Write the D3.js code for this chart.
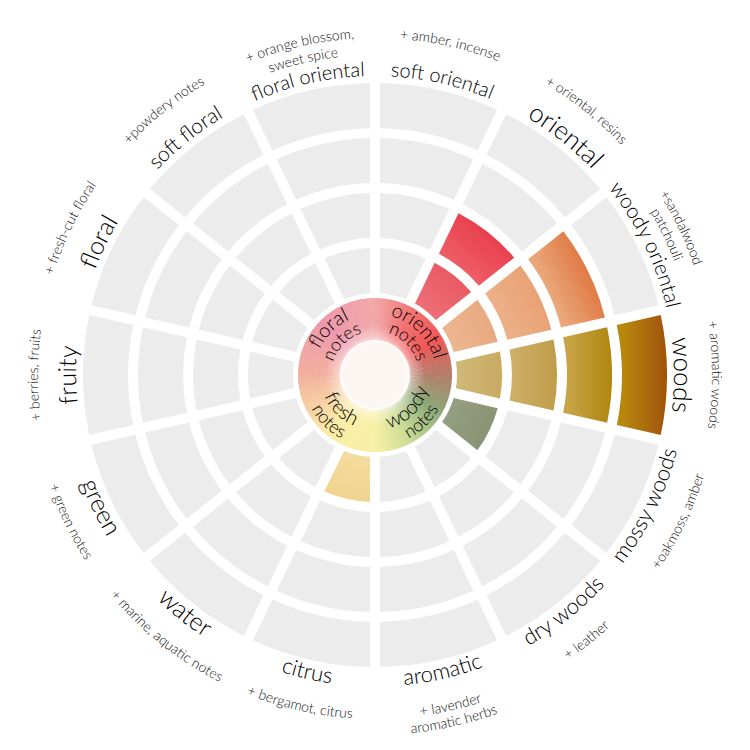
<!DOCTYPE html>
<html><head><meta charset="utf-8">
<script src="https://cdn.jsdelivr.net/npm/d3@7"></script>
<style>html,body{margin:0;background:#fff;} svg{display:block}</style>
</head><body><svg id="c" width="750" height="750"></svg>
<script>
// ---- data ----
const categories = ["soft oriental","oriental","woody oriental","woods","mossy woods","dry woods","aromatic","citrus","water","green","fruity","floral","soft floral","floral oriental"];
const subLabels = [["+ amber, incense"],["+ oriental, resins"],["+sandalwood","patchouli"],["+ aromatic woods"],["+oakmoss, amber"],["+ leather"],["+ lavender","aromatic herbs"],["+ bergamot, citrus"],["+ marine, aquatic notes"],["+ green notes"],["+ berries, fruits"],["+ fresh-cut floral"],["+powdery notes"],["+ orange blossom,","sweet spice"]];
const rings = [1,2,3,4];
const filledRings = [0,2,3,4,1,0,0,1,0,0,0,0,0,0];
const noteFamilies = ["oriental","woody","fresh","floral"];
const noteWord = "notes";
const wheelStopAngles = [0,30,60,90,120,150,180,220,270,315,360];
const wheelStopColors = ["#f2a8a8","#f27272","#f05656","#b47e6c","#8aa878","#c6da94","#f8f0a4","#faeca6","#f2b09e","#ee98ac","#f2a8a8"];

// ---- styles ----
const cellColors = {
 "oriental-1": ["#ee6e76","#e85a64"],
 "oriental-2": ["#ee5c66","#e8404e"],
 "woody oriental-1": ["#ecb690","#e8aa80"],
 "woody oriental-2": ["#ecb088","#e8a274"],
 "woody oriental-3": ["#eaa87c","#e07a44"],
 "woods-1": ["#d0b876","#c8aa62"],
 "woods-2": ["#ccb068","#c09c48"],
 "woods-3": ["#c8a448","#b0860e"],
 "woods-4": ["#b8880c","#a05206"],
 "mossy woods-1": ["#949e80","#8a9474"],
 "citrus-1": ["#f4dc9e","#f0d490"]
};
const labelSize = {"soft oriental":20,"oriental":26,"woody oriental":21,"woods":26,"mossy woods":22,"dry woods":22,"aromatic":22,"citrus":22,"water":25,"green":25,"fruity":25,"floral":25,"soft floral":21,"floral oriental":20};
const FONT = "Lato, 'Open Sans', sans-serif";
const GRAY = "#ececec";

const svg = d3.select("#c");
const g = svg.append("g").attr("transform","translate(375,375)");
const defs = svg.append("defs");

const x = d3.scaleBand().domain(categories).range([0, 2*Math.PI]);
const y = d3.scaleBand().domain(rings).range([82, 292]).paddingInner(0.18);

const arc = d3.arc()
  .innerRadius(d => y(d.ring))
  .outerRadius(d => y(d.ring) + y.bandwidth())
  .startAngle(d => x(d.cat))
  .endAngle(d => x(d.cat) + x.bandwidth())
  .padAngle(0.05).padRadius(200);

const cells = [];
categories.forEach((c,i) => rings.forEach(r => cells.push({cat:c, ring:r, filled: r <= filledRings[i]})));

defs.append("filter").attr("id","soft").append("feGaussianBlur").attr("stdDeviation",0.6);
defs.append("filter").attr("id","blur2").append("feGaussianBlur").attr("stdDeviation",2);

cells.forEach((d,i) => {
  if (d.filled) {
    const col = cellColors[d.cat + "-" + d.ring];
    const a = x(d.cat) + x.bandwidth()/2;
    const r0 = y(d.ring), r1 = y(d.ring) + y.bandwidth();
    const gr = defs.append("linearGradient").attr("id","gc"+i).attr("gradientUnits","userSpaceOnUse")
      .attr("x1", r0*Math.sin(a)).attr("y1", -r0*Math.cos(a))
      .attr("x2", r1*Math.sin(a)).attr("y2", -r1*Math.cos(a));
    gr.append("stop").attr("offset","0%").attr("stop-color",col[0]);
    gr.append("stop").attr("offset","100%").attr("stop-color",col[1]);
    d.fill = "url(#gc"+i+")";
  } else d.fill = GRAY;
});

g.selectAll("path.cell").data(cells).join("path").attr("class","cell")
  .attr("d", arc).attr("fill", d => d.fill)
  .attr("filter", d => d.filled ? "url(#soft)" : null);

// ---- central colour wheel ----
const wheelColor = d3.scaleLinear().domain(wheelStopAngles).range(wheelStopColors).interpolate(d3.interpolateRgb);
const slices = d3.range(0, 360, 2);
const sliceArc = d3.arc().innerRadius(35).outerRadius(77)
  .startAngle(d => d*Math.PI/180).endAngle(d => (d+2.4)*Math.PI/180);
g.selectAll("path.slice").data(slices).join("path").attr("class","slice")
  .attr("d", sliceArc).attr("fill", d => wheelColor(d+1));

const rg = defs.append("radialGradient").attr("id","innerGlow").attr("gradientUnits","userSpaceOnUse")
  .attr("cx",0).attr("cy",0).attr("r",77);
rg.append("stop").attr("offset","0.45").attr("stop-color","#fff").attr("stop-opacity",0.45);
rg.append("stop").attr("offset","0.65").attr("stop-color","#fff").attr("stop-opacity",0);
g.append("circle").attr("r",77).attr("fill","url(#innerGlow)");
g.append("circle").attr("r",34).attr("fill","#fcf6f2").attr("filter","url(#blur2)");

// ---- curved text helpers ----
let pid = 0;
function arcText(parent, text, r, a, topStyle, size, color, weight) {
  const span = Math.PI*0.45;
  const p = d3.path();
  if (topStyle) p.arc(0,0,r,a-span-Math.PI/2,a+span-Math.PI/2,false);
  else p.arc(0,0,r,a+span-Math.PI/2,a-span-Math.PI/2,true);
  const id = "tp"+(pid++);
  defs.append("path").attr("id",id).attr("d",p.toString());
  parent.append("text").attr("font-family",FONT).attr("font-weight",weight || 300)
    .attr("font-size",size).attr("fill",color)
    .append("textPath").attr("href","#"+id).attr("startOffset","50%")
    .attr("text-anchor","middle").text(text);
}

const labels = g.append("g");
categories.forEach((c,i) => {
  const a = x(c) + x.bandwidth()/2;
  const top = Math.cos(a) > -0.1;
  const fs = labelSize[c];
  const rMain = top ? 299 : 300 + 0.52*fs;
  arcText(labels, c, rMain, a, top, fs, "#000");
  subLabels[i].forEach((s,j) => {
    const r = top ? 337 - j*17 : 344 + j*16;
    arcText(labels, s, r, a, top, 14, "#111");
  });
});

const nx = d3.scaleBand().domain(noteFamilies).range([0, 2*Math.PI]);
noteFamilies.forEach(f => {
  const a = nx(f) + nx.bandwidth()/2;
  const top = Math.cos(a) > -0.1;
  if (top) {
    arcText(labels, f, 61, a, true, 20, "#000");
    arcText(labels, noteWord, 44, a, true, 18, "#000");
  } else {
    arcText(labels, f, 55, a, false, 20, "#000");
    arcText(labels, noteWord, 72, a, false, 18, "#000");
  }
});
</script></body></html>
